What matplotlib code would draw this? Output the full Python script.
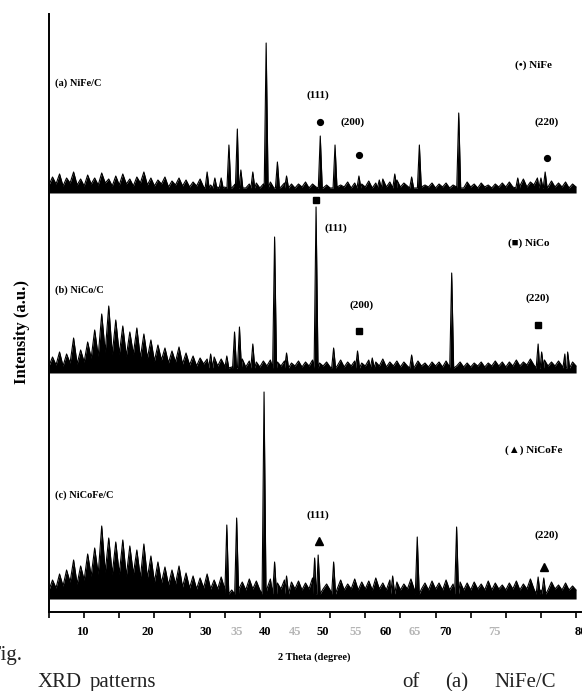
import numpy as np
import matplotlib
matplotlib.use("Agg")
import matplotlib.pyplot as plt

# XRD patterns, intensities in arbitrary units above each pattern's baseline
two_theta = np.arange(5, 80.01, 0.5)

noise_nife = [7, 15, 8, 18, 6, 14, 9, 20, 7, 13,
              6, 17, 8, 14, 7, 19, 9, 13, 6, 16,
              7, 18, 8, 13, 6, 15, 9, 20, 7, 14,
              6, 12, 8, 15, 5, 11, 7, 14, 6, 12,
              5, 10, 6, 13, 5, 9, 7, 11, 5, 10,
              5, 9, 4, 8, 6, 10, 4, 8, 5, 9,
              4, 8, 5, 10, 4, 8, 5, 9, 4, 8,
              4, 8, 5, 10, 4, 8, 5, 9, 4, 7,
              4, 8, 5, 7, 5, 10, 4, 9, 5, 8,
              5, 11, 4, 9, 6, 13, 5, 10, 5, 12,
              5, 9, 6, 10, 4, 8, 5, 7, 5, 9,
              4, 8, 5, 9, 4, 7, 5, 8, 4, 10,
              5, 8, 4, 9, 5, 7, 4, 8, 5, 9,
              5, 10, 5, 11, 6, 13, 5, 10, 7, 14,
              6, 12, 5, 11, 5, 9, 5, 10, 4, 8,
              5]
peaks_nife_pos = [27.5, 28.6, 29.5, 30.6, 31.8, 32.3, 34.0, 35.9, 37.5, 38.8,
                  43.6, 45.7, 49.1, 52.0, 54.2, 56.6, 57.7, 63.3, 71.7, 75.0, 75.6]
peaks_nife_int = [20, 14, 14, 47, 63, 22, 20, 149, 30, 16,
                  56, 47, 16, 12, 18, 15, 47, 79, 14, 14, 20]

noise_nico = [6, 15, 7, 20, 6, 18, 9, 34, 8, 22,
              10, 30, 14, 42, 16, 58, 20, 66, 18, 52,
              18, 46, 16, 40, 18, 44, 14, 38, 14, 32,
              11, 27, 12, 24, 9, 21, 10, 25, 8, 19,
              7, 16, 6, 14, 8, 13, 6, 15, 6, 13,
              6, 12, 5, 11, 7, 13, 5, 11, 6, 10,
              5, 11, 6, 12, 5, 10, 6, 11, 5, 9,
              6, 11, 5, 10, 6, 12, 5, 9, 6, 10,
              5, 10, 6, 12, 5, 10, 6, 11, 5, 9,
              6, 12, 5, 10, 6, 13, 5, 10, 6, 11,
              5, 10, 6, 9, 5, 11, 6, 9, 5, 10,
              6, 10, 5, 11, 5, 9, 6, 10, 5, 9,
              5, 9, 6, 10, 5, 9, 6, 11, 6, 10,
              5, 10, 6, 12, 6, 10, 7, 13, 7, 14,
              7, 12, 6, 10, 6, 11, 6, 10, 5, 10,
              6]
peaks_nico_pos = [28.0, 30.3, 31.4, 32.1, 34.0, 37.1, 38.8, 43.0, 45.5, 48.9,
                  51.0, 56.6, 62.3, 74.6, 75.1, 78.4, 78.8]
peaks_nico_int = [18, 16, 40, 45, 28, 135, 19, 165, 24, 21,
                  14, 17, 99, 28, 20, 18, 20]

noise_nicofe = [8, 18, 10, 24, 12, 28, 16, 38, 14, 32,
                18, 44, 22, 50, 24, 72, 26, 60, 24, 56,
                24, 58, 22, 52, 24, 48, 20, 54, 20, 42,
                16, 36, 15, 31, 13, 28, 14, 32, 11, 25,
                10, 22, 9, 20, 10, 24, 9, 18, 9, 21,
                9, 18, 8, 20, 9, 16, 8, 19, 9, 17,
                8, 16, 9, 19, 8, 15, 9, 18, 8, 16,
                9, 17, 8, 15, 9, 20, 8, 16, 9, 14,
                8, 15, 9, 18, 8, 14, 9, 19, 8, 16,
                9, 17, 8, 20, 9, 15, 8, 18, 9, 16,
                8, 14, 9, 19, 8, 16, 9, 15, 8, 17,
                9, 15, 8, 18, 8, 14, 9, 16, 8, 15,
                8, 16, 9, 14, 8, 17, 8, 15, 9, 13,
                8, 15, 9, 17, 8, 14, 9, 19, 9, 16,
                8, 14, 8, 16, 9, 13, 8, 15, 8, 12,
                8]
peaks_nicofe_pos = [30.3, 31.7, 35.6, 37.1, 38.8, 42.8, 43.3, 45.5, 53.9, 57.4,
                    63.0, 74.6, 75.4]
peaks_nicofe_int = [73, 80, 206, 36, 22, 40, 43, 36, 22, 61,
                    71, 21, 20]

offsets = [420, 240, 14]
sample_names = ["(a) NiFe/C", "(b) NiCo/C", "(c) NiCoFe/C"]
sample_label_y = [529, 322, 117]

# phase markers (2theta, height on the plot)
nife_marker_x = [43.6, 49.1, 75.9]
nife_marker_y = [490, 457, 454]
nico_marker_x = [43.0, 49.1, 74.6]
nico_marker_y = [412, 281, 287]
nicofe_marker_x = [43.4, 75.5]
nicofe_marker_y = [71, 45]

hkl_text = ["(111)", "(200)", "(220)", "(111)", "(200)", "(220)", "(111)", "(220)"]
hkl_x = [43.3, 48.2, 75.8, 45.8, 49.5, 74.5, 43.3, 75.8]
hkl_y = [517, 490, 490, 384, 307, 314, 97, 77]

phase_text = ["(\u2022) NiFe", "(\u25a0) NiCo", "(\u25b2) NiCoFe"]
phase_x = [73.9, 73.2, 73.9]
phase_y = [547, 369, 162]

# tick labels sit where the original figure printed them
tick_values = list(range(5, 85, 5))
tick_label_text = ["10", "20", "30", "35", "40", "45", "50", "55", "60", "65", "70", "75", "80"]
tick_label_pos = [9.8, 19.0, 27.3, 31.7, 35.8, 40.0, 44.0, 48.6, 52.9, 57.1, 61.4, 68.4, 80.7]
faint_labels = ["35", "45", "55", "65", "75"]


def build_pattern(noise, pos, inten, offset, hw=0.28, base=4):
    xs = [x for x, n in zip(two_theta, noise) if all(abs(x - p) > hw for p in pos)]
    ys = [n for x, n in zip(two_theta, noise) if all(abs(x - p) > hw for p in pos)]
    for p, h in zip(pos, inten):
        xs += [p - hw, p, p + hw]
        ys += [base, h, base]
    order = np.argsort(xs)
    return np.array(xs)[order], np.array(ys)[order] + offset


serif = ["Liberation Serif", "DejaVu Sans"]
plt.rcParams["font.family"] = serif
plt.rcParams["font.weight"] = "bold"

fig = plt.figure(figsize=(5.82, 6.91), dpi=100)
ax = fig.add_axes([49 / 582, 79 / 691, 532 / 582, 598 / 691])

patterns = [(noise_nife, peaks_nife_pos, peaks_nife_int),
            (noise_nico, peaks_nico_pos, peaks_nico_int),
            (noise_nicofe, peaks_nicofe_pos, peaks_nicofe_int)]
for (noise, pos, inten), off in zip(patterns, offsets):
    x, y = build_pattern(noise, pos, inten, off)
    ax.fill_between(x, off - 1, y, color="black", lw=0)
    ax.plot(x, y, color="black", lw=0.8)

for name, y in zip(sample_names, sample_label_y):
    ax.text(5.85, y, name, fontsize=7.5, fontweight="bold", va="center", ha="left")

ax.plot(nife_marker_x, nife_marker_y, "o", color="black", ms=4.2)
ax.plot(nico_marker_x, nico_marker_y, "s", color="black", ms=4.2)
ax.plot(nicofe_marker_x, nicofe_marker_y, "^", color="black", ms=6)

for t, x, y in zip(hkl_text, hkl_x, hkl_y):
    ax.text(x, y, t, fontsize=8, fontweight="bold", ha="center", va="center")
for t, x, y in zip(phase_text, phase_x, phase_y):
    ax.text(x, y, t, fontsize=8, fontweight="bold", ha="center", va="center")

ax.set_xlim(5, 80)
ax.set_ylim(0, 598)
ax.set_yticks([])
for side in ["top", "right"]:
    ax.spines[side].set_visible(False)
for side in ["left", "bottom"]:
    ax.spines[side].set_linewidth(1.4)

ax.set_xticks(tick_label_pos, tick_label_text)
ax.set_xticks(tick_values, minor=True)
ax.tick_params(axis="x", which="major", length=0, pad=10, labelsize=9)
ax.tick_params(axis="x", which="minor", length=4, width=1.2, direction="out")
for lab in ax.get_xticklabels():
    lab.set_fontweight("bold")
    if lab.get_text() in faint_labels:
        lab.set_color("#b5b5b5")

fig.text(22 / 582, 1 - 332 / 691, "Intensity (a.u.)", rotation=90, fontsize=12,
         fontweight="bold", ha="center", va="center")
fig.text(314 / 582, 1 - 657 / 691, "2 Theta (degree)", fontsize=7.5,
         fontweight="bold", ha="center", va="center")

# caption text of the page that runs under the figure
cap = dict(fontsize=15, fontweight="normal", color="#222222", va="top", ha="left")
fig.text(-11 / 582, 1 - 646 / 691, "Fig.", **cap)
fig.text(38 / 582, 1 - 673 / 691, "XRD", **cap)
fig.text(90 / 582, 1 - 673 / 691, "patterns", **cap)
fig.text(402 / 582, 1 - 673 / 691, "of", **cap)
fig.text(445 / 582, 1 - 673 / 691, "(a)", **cap)
fig.text(494 / 582, 1 - 673 / 691, "NiFe/C", **cap)

fig.savefig("out.png", dpi=100)
